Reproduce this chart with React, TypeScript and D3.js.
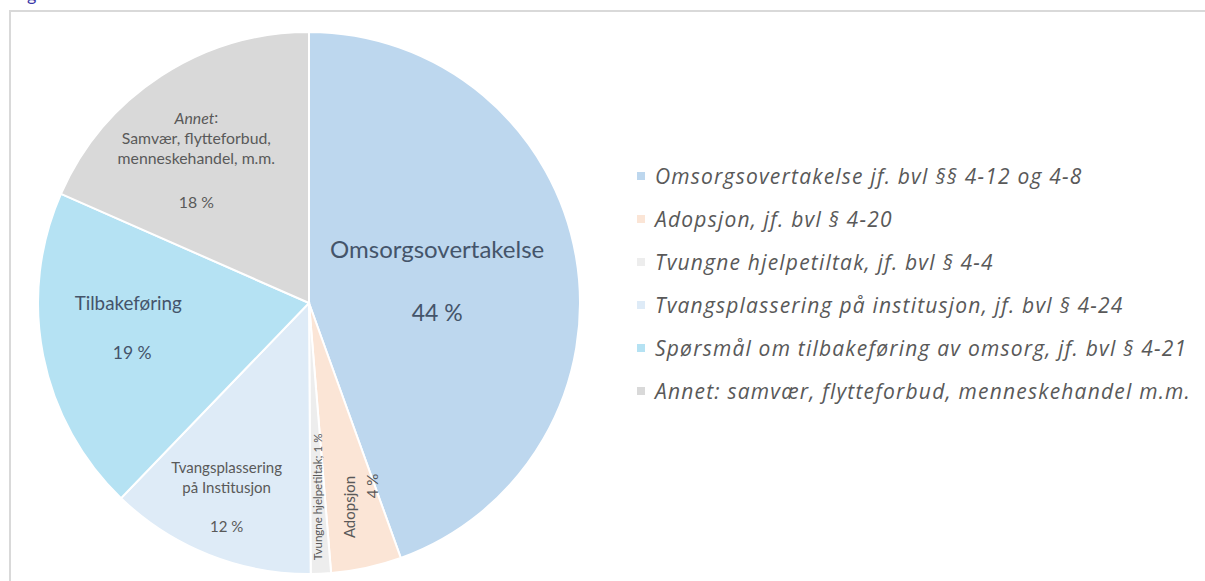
import React from 'react'
import * as d3 from 'd3'

const categories = [
  'Omsorgsovertakelse',
  'Adopsjon',
  'Tvungne hjelpetiltak',
  'Tvangsplassering',
  'Tilbakeføring',
  'Annet',
]
const values = [44.5, 4.2, 1.2, 12.3, 19.4, 18.4]
const percentLabels = ['44 %', '4 %', '1 %', '12 %', '19 %', '18 %']
const colors = ['#bdd7ee', '#fbe5d6', '#ededed', '#deebf7', '#b5e2f3', '#d9d9d9']
const legendLabels = [
  'Omsorgsovertakelse jf. bvl §§ 4-12 og 4-8',
  'Adopsjon, jf. bvl § 4-20',
  'Tvungne hjelpetiltak, jf. bvl § 4-4',
  'Tvangsplassering på institusjon, jf. bvl § 4-24',
  'Spørsmål om tilbakeføring av omsorg, jf. bvl § 4-21',
  'Annet: samvær, flytteforbud, menneskehandel m.m.',
]

const W = 1205
const H = 581
const cx = 309
const cy = 303
const R = 271

const pieFont = 'Lato, "Noto Sans", sans-serif'
const legendFont = '"Open Sans", "Noto Sans", sans-serif'

export default function App() {
  const data = categories.map((c, i) => ({ name: c, value: values[i], i }))
  const arcs = d3
    .pie<{ name: string; value: number; i: number }>()
    .sort(null)
    .value((d) => d.value)(data)
  const arc = d3.arc<d3.PieArcDatum<any>>().innerRadius(0).outerRadius(R)
  const at = (d: d3.PieArcDatum<any>, f: number) =>
    d3.arc<d3.PieArcDatum<any>>().innerRadius(R * f).outerRadius(R * f).centroid(d)

  const [om, ad, tv, tp, tb, an] = arcs
  const omC = at(om, 0.48)
  const anC = at(an, 0.68)
  const tbC = at(tb, 0.68)
  const tpC = at(tp, 0.79)
  const tvC = at(tv, 0.72)
  const adC = at(ad, 0.74)

  const legendY = d3.scalePoint<number>().domain(d3.range(legendLabels.length)).range([176, 391])

  return (
    <svg width={W} height={H} style={{ position: 'absolute', left: 0, top: 0, background: '#fff' }}>
      <text x={27} y={1} fontSize={18} fill="#3a3aa8" fontFamily={pieFont}>g</text>
      <polyline points={`10,${H} 10,11 ${W},11`} fill="none" stroke="#d9d9d9" strokeWidth={2} />
      <g transform={`translate(${cx},${cy})`}>
        {arcs.map((d, i) => (
          <path key={i} d={arc(d) || ''} fill={colors[i]} stroke="#fff" strokeWidth={2} />
        ))}
        <g fontFamily={pieFont} textAnchor="middle">
          <text x={omC[0]} y={omC[1] - 32} fontSize={24} fill="#44546a" dominantBaseline="central">{categories[0]}</text>
          <text x={omC[0]} y={omC[1] + 31} fontSize={23} fill="#44546a" dominantBaseline="central">{percentLabels[0]}</text>

          <g fill="#595959" fontSize={15.8}>
            <text x={anC[0] - 12} y={anC[1] - 32} dominantBaseline="central">
              <tspan fontStyle="italic">Annet</tspan>:
            </text>
            <text x={anC[0] - 12} y={anC[1] - 11} dominantBaseline="central">Samvær, flytteforbud,</text>
            <text x={anC[0] - 12} y={anC[1] + 9} dominantBaseline="central">menneskehandel, m.m.</text>
            <text x={anC[0] - 12} y={anC[1] + 53} dominantBaseline="central">{percentLabels[5]}</text>
          </g>

          <text x={tbC[0]} y={tbC[1] - 36} fontSize={18.8} fill="#44546a" dominantBaseline="central">{categories[4]}</text>
          <text x={tbC[0] + 4} y={tbC[1] + 14} fontSize={17.5} fill="#44546a" dominantBaseline="central">{percentLabels[4]}</text>

          <g fill="#595959" fontSize={15}>
            <text x={tpC[0] - 3} y={tpC[1] - 35} dominantBaseline="central">{categories[3]}</text>
            <text x={tpC[0] - 3} y={tpC[1] - 15} dominantBaseline="central">på Institusjon</text>
            <text x={tpC[0] - 3} y={tpC[1] + 24} dominantBaseline="central">{percentLabels[3]}</text>
          </g>

          <text
            transform={`translate(${tvC[0]},${tvC[1] - 1}) rotate(-90)`}
            fontSize={11.5}
            fill="#595959"
            dominantBaseline="central"
          >
            {`${categories[2]}; ${percentLabels[2]}`}
          </text>

          <g fill="#595959" fontSize={15}>
            <text transform={`translate(${adC[0] - 3},${adC[1] + 8}) rotate(-90)`} dominantBaseline="central">{categories[1]}</text>
            <text transform={`translate(${adC[0] + 20},${adC[1] - 13}) rotate(-90)`} dominantBaseline="central">{percentLabels[1]}</text>
          </g>
        </g>
      </g>
      <g fontFamily={legendFont} fontStyle="italic" fontSize={21} letterSpacing={1.2} fill="#595959">
        {legendLabels.map((l, i) => (
          <g key={i} transform={`translate(637,${legendY(i)})`}>
            <rect x={0} y={-4} width={8} height={8} fill={colors[i]} />
            <text x={18} y={0} dominantBaseline="central">{l}</text>
          </g>
        ))}
      </g>
    </svg>
  )
}
